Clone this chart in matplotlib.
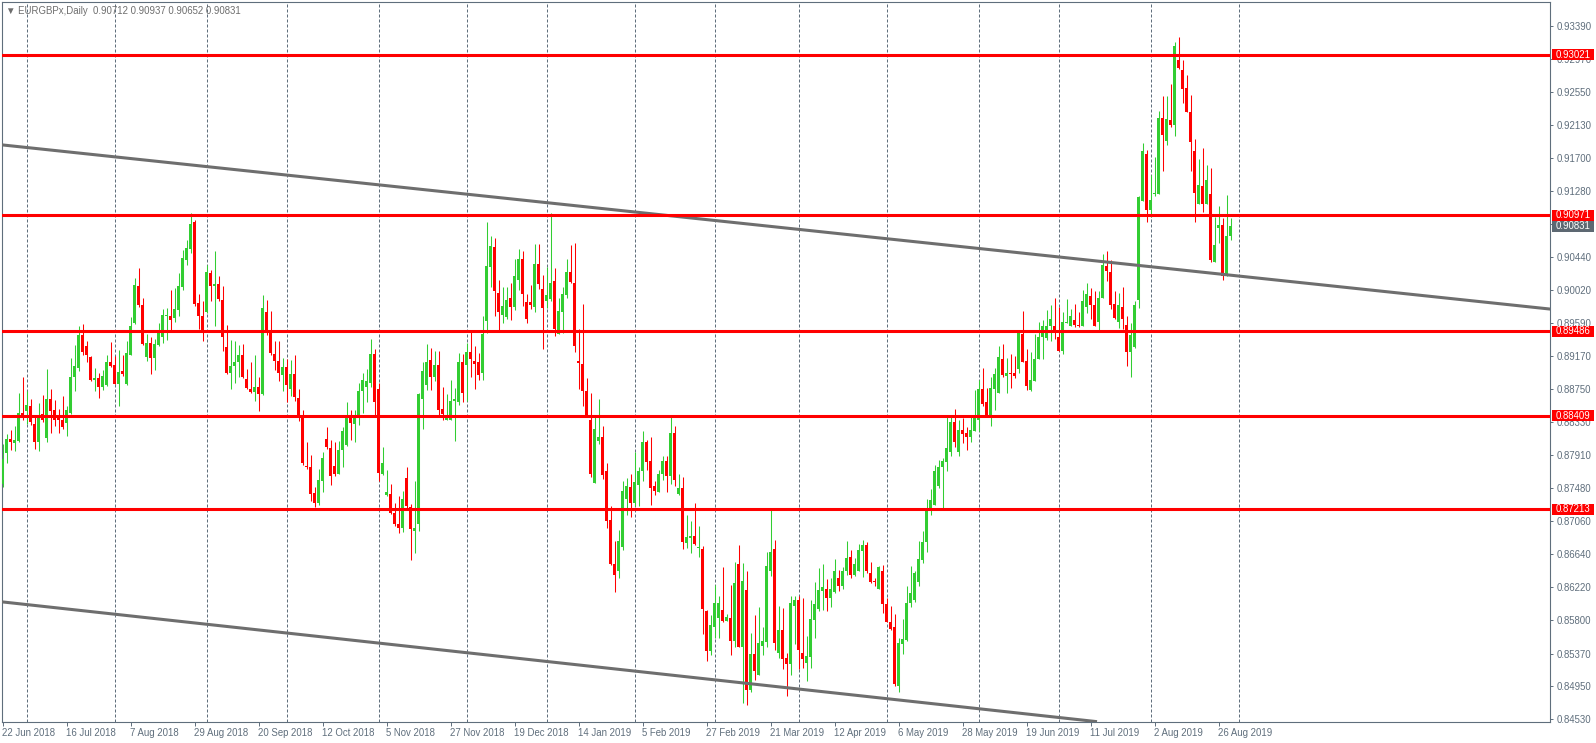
import matplotlib
matplotlib.use("Agg")
import matplotlib.pyplot as plt
import matplotlib.transforms as mtransforms
from matplotlib.patches import Rectangle
import numpy as np
import pandas as pd

# chart data
symbol = "EURGBPx,Daily"
first_date = "2018-06-22"
holidays = ["2018-12-25", "2019-01-01"]

opens = [
    0.8754, 0.8793, 0.8811, 0.8806, 0.8809, 0.8844, 0.8847, 0.8853, 0.8831, 0.8807,
    0.8843, 0.8812, 0.8862, 0.8848, 0.8840, 0.8835, 0.8832, 0.8845, 0.8890, 0.8902,
    0.8944, 0.8930, 0.8916, 0.8887, 0.8889, 0.8878, 0.8880, 0.8910, 0.8906, 0.8882,
    0.8898, 0.8882, 0.8919, 0.8959, 0.9007, 0.8982, 0.8916, 0.8934, 0.8915, 0.8931,
    0.8941, 0.8968, 0.8969, 0.8966, 0.8976, 0.9006, 0.9040, 0.9054, 0.9089, 0.8985,
    0.8968, 0.8973, 0.9023, 0.9007, 0.9009, 0.8989, 0.8929, 0.8896, 0.8905, 0.8910,
    0.8919, 0.8888, 0.8875, 0.8871, 0.8878, 0.8869, 0.8974, 0.8951, 0.8920, 0.8911,
    0.8893, 0.8903, 0.8875, 0.8894, 0.8863, 0.8842, 0.8776, 0.8775, 0.8742, 0.8730,
    0.8758, 0.8811, 0.8800, 0.8777, 0.8767, 0.8797, 0.8804, 0.8841, 0.8831, 0.8839,
    0.8872, 0.8878, 0.8883, 0.8920, 0.8875, 0.8767, 0.8740, 0.8741, 0.8717, 0.8702,
    0.8697, 0.8761, 0.8724, 0.8693, 0.8703, 0.8862, 0.8880, 0.8912, 0.8890, 0.8906,
    0.8849, 0.8836, 0.8835, 0.8860, 0.8858, 0.8910, 0.8906, 0.8922, 0.8911, 0.8909,
    0.8895, 0.8962, 0.9031, 0.9057, 0.8998, 0.8970, 0.8967, 0.8992, 0.8980, 0.9015,
    0.9041, 0.8986, 0.8986, 0.8980, 0.9035, 0.9003, 0.8988, 0.8990, 0.9013, 0.8946,
    0.8973, 0.8995, 0.9024, 0.9010, 0.8911, 0.8907, 0.8872, 0.8836, 0.8755, 0.8809,
    0.8814, 0.8770, 0.8708, 0.8651, 0.8642, 0.8673, 0.8735, 0.8750, 0.8730, 0.8752,
    0.8770, 0.8807, 0.8783, 0.8751, 0.8744, 0.8766, 0.8783, 0.8764, 0.8819, 0.8741,
    0.8748, 0.8678, 0.8685, 0.8687, 0.8672, 0.8671, 0.8591, 0.8540, 0.8571, 0.8583,
    0.8593, 0.8579, 0.8582, 0.8553, 0.8652, 0.8545, 0.8618, 0.8490, 0.8536, 0.8509,
    0.8547, 0.8552, 0.8643, 0.8671, 0.8538, 0.8567, 0.8531, 0.8524, 0.8598, 0.8605,
    0.8538, 0.8525, 0.8533, 0.8580, 0.8594, 0.8617, 0.8619, 0.8608, 0.8616, 0.8634,
    0.8623, 0.8643, 0.8660, 0.8638, 0.8643, 0.8668, 0.8676, 0.8640, 0.8630, 0.8619,
    0.8643, 0.8600, 0.8577, 0.8571, 0.8496, 0.8549, 0.8554, 0.8601, 0.8605, 0.8628,
    0.8657, 0.8679, 0.8720, 0.8727, 0.8751, 0.8775, 0.8782, 0.8795, 0.8833, 0.8795,
    0.8823, 0.8819, 0.8814, 0.8821, 0.8835, 0.8875, 0.8858, 0.8839, 0.8875, 0.8870,
    0.8913, 0.8892, 0.8896, 0.8896, 0.8901, 0.8946, 0.8911, 0.8874, 0.8885, 0.8914,
    0.8941, 0.8940, 0.8955, 0.8956, 0.8941, 0.8924, 0.8960, 0.8956, 0.8963, 0.8957,
    0.8955, 0.8980, 0.8994, 0.8983, 0.8961, 0.8992, 0.9032, 0.9024, 0.8984, 0.8961,
    0.8980, 0.8957, 0.8922, 0.8929, 0.8989, 0.9115, 0.9176, 0.9104, 0.9124, 0.9124,
    0.9221, 0.9192, 0.9219, 0.9212, 0.9295, 0.9283, 0.9260, 0.9229, 0.9179, 0.9112,
    0.9135, 0.9112, 0.9124, 0.9037, 0.9081, 0.9085, 0.9020, 0.90712,
]
highs = [
    0.8805, 0.8818, 0.8823, 0.8828, 0.8870, 0.8891, 0.8872, 0.8862, 0.8840, 0.8857,
    0.8867, 0.8901, 0.8875, 0.8861, 0.8850, 0.8866, 0.8853, 0.8915, 0.8931, 0.8955,
    0.8958, 0.8937, 0.8917, 0.8902, 0.8896, 0.8899, 0.8919, 0.8935, 0.8917, 0.8925,
    0.8918, 0.8936, 0.8967, 0.9017, 0.9030, 0.8992, 0.8946, 0.8942, 0.8939, 0.8959,
    0.8977, 0.8978, 0.9001, 0.9004, 0.9023, 0.9053, 0.9066, 0.9100, 0.9091, 0.8997,
    0.8987, 0.9034, 0.9027, 0.9052, 0.9019, 0.9007, 0.8957, 0.8938, 0.8937, 0.8931,
    0.8933, 0.8901, 0.8909, 0.8918, 0.8890, 0.8995, 0.8989, 0.8975, 0.8937, 0.8937,
    0.8915, 0.8914, 0.8912, 0.8918, 0.8875, 0.8848, 0.8808, 0.8791, 0.8750, 0.8773,
    0.8795, 0.8826, 0.8810, 0.8808, 0.8809, 0.8827, 0.8858, 0.8848, 0.8848, 0.8883,
    0.8896, 0.8901, 0.8939, 0.8926, 0.8883, 0.8801, 0.8772, 0.8754, 0.8729, 0.8738,
    0.8745, 0.8775, 0.8728, 0.8758, 0.8870, 0.8909, 0.8932, 0.8928, 0.8924, 0.8924,
    0.8878, 0.8869, 0.8887, 0.8876, 0.8921, 0.8920, 0.8934, 0.8948, 0.8930, 0.8921,
    0.8968, 0.9088, 0.9070, 0.9068, 0.9014, 0.9005, 0.9005, 0.9011, 0.9041, 0.9054,
    0.9052, 0.8997, 0.9008, 0.9060, 0.9061, 0.9021, 0.9031, 0.9100, 0.9030, 0.8992,
    0.9006, 0.9041, 0.9059, 0.9062, 0.8952, 0.8984, 0.8889, 0.8870, 0.8840, 0.8862,
    0.8828, 0.8781, 0.8726, 0.8681, 0.8695, 0.8757, 0.8762, 0.8767, 0.8794, 0.8775,
    0.8821, 0.8810, 0.8814, 0.8757, 0.8772, 0.8790, 0.8790, 0.8841, 0.8828, 0.8767,
    0.8763, 0.8714, 0.8706, 0.8729, 0.8700, 0.8674, 0.8593, 0.8586, 0.8625, 0.8610,
    0.8647, 0.8588, 0.8625, 0.8654, 0.8676, 0.8653, 0.8642, 0.8563, 0.8586, 0.8596,
    0.8571, 0.8667, 0.8723, 0.8682, 0.8598, 0.8595, 0.8538, 0.8610, 0.8610, 0.8610,
    0.8608, 0.8559, 0.8605, 0.8629, 0.8646, 0.8652, 0.8632, 0.8634, 0.8658, 0.8644,
    0.8648, 0.8681, 0.8669, 0.8659, 0.8677, 0.8682, 0.8680, 0.8654, 0.8633, 0.8649,
    0.8650, 0.8608, 0.8598, 0.8587, 0.8557, 0.8581, 0.8623, 0.8649, 0.8642, 0.8681,
    0.8693, 0.8735, 0.8747, 0.8778, 0.8784, 0.8787, 0.8839, 0.8840, 0.8850, 0.8835,
    0.8838, 0.8827, 0.8841, 0.8874, 0.8887, 0.8902, 0.8877, 0.8891, 0.8902, 0.8930,
    0.8933, 0.8915, 0.8920, 0.8917, 0.8951, 0.8975, 0.8926, 0.8923, 0.8945, 0.8961,
    0.8963, 0.8976, 0.8982, 0.8992, 0.8980, 0.8973, 0.8990, 0.8977, 0.8984, 0.8973,
    0.9002, 0.9010, 0.9004, 0.9000, 0.9000, 0.9048, 0.9052, 0.9040, 0.9000, 0.8998,
    0.9005, 0.8968, 0.8960, 0.8988, 0.9122, 0.9190, 0.9180, 0.9149, 0.9171, 0.9230,
    0.9250, 0.9249, 0.9265, 0.9318, 0.9325, 0.9295, 0.9276, 0.9251, 0.9194, 0.9169,
    0.9183, 0.9161, 0.9157, 0.9095, 0.9109, 0.9094, 0.9123, 0.90937,
]
lows = [
    0.8750, 0.8780, 0.8797, 0.8796, 0.8807, 0.8836, 0.8831, 0.8829, 0.8799, 0.8796,
    0.8833, 0.8808, 0.8819, 0.8828, 0.8819, 0.8824, 0.8815, 0.8843, 0.8873, 0.8898,
    0.8919, 0.8910, 0.8885, 0.8872, 0.8864, 0.8874, 0.8879, 0.8903, 0.8882, 0.8853,
    0.8892, 0.8880, 0.8919, 0.8958, 0.8980, 0.8931, 0.8911, 0.8894, 0.8899, 0.8930,
    0.8934, 0.8938, 0.8948, 0.8961, 0.8968, 0.9001, 0.9034, 0.9049, 0.8981, 0.8952,
    0.8937, 0.8972, 0.8988, 0.8955, 0.8988, 0.8924, 0.8894, 0.8875, 0.8883, 0.8890,
    0.8889, 0.8875, 0.8870, 0.8860, 0.8847, 0.8868, 0.8944, 0.8919, 0.8899, 0.8885,
    0.8872, 0.8858, 0.8866, 0.8860, 0.8834, 0.8778, 0.8773, 0.8732, 0.8724, 0.8727,
    0.8744, 0.8798, 0.8752, 0.8764, 0.8766, 0.8775, 0.8802, 0.8810, 0.8808, 0.8829,
    0.8844, 0.8858, 0.8878, 0.8842, 0.8757, 0.8765, 0.8738, 0.8715, 0.8700, 0.8691,
    0.8692, 0.8723, 0.8657, 0.8666, 0.8694, 0.8824, 0.8874, 0.8874, 0.8885, 0.8842,
    0.8836, 0.8836, 0.8835, 0.8809, 0.8855, 0.8859, 0.8860, 0.8891, 0.8875, 0.8887,
    0.8886, 0.8947, 0.9005, 0.8968, 0.8951, 0.8960, 0.8964, 0.8963, 0.8976, 0.9002,
    0.8981, 0.8959, 0.8977, 0.8973, 0.9003, 0.8926, 0.8979, 0.8988, 0.8943, 0.8945,
    0.8947, 0.8992, 0.9010, 0.8922, 0.8875, 0.8854, 0.8841, 0.8763, 0.8755, 0.8805,
    0.8760, 0.8698, 0.8650, 0.8616, 0.8634, 0.8669, 0.8714, 0.8711, 0.8726, 0.8725,
    0.8758, 0.8772, 0.8727, 0.8740, 0.8743, 0.8759, 0.8743, 0.8754, 0.8751, 0.8740,
    0.8671, 0.8672, 0.8665, 0.8676, 0.8661, 0.8562, 0.8528, 0.8535, 0.8557, 0.8557,
    0.8577, 0.8578, 0.8535, 0.8546, 0.8545, 0.8474, 0.8471, 0.8488, 0.8503, 0.8509,
    0.8535, 0.8546, 0.8636, 0.8542, 0.8531, 0.8517, 0.8483, 0.8509, 0.8549, 0.8517,
    0.8518, 0.8502, 0.8518, 0.8557, 0.8592, 0.8593, 0.8591, 0.8597, 0.8614, 0.8617,
    0.8619, 0.8638, 0.8633, 0.8636, 0.8642, 0.8635, 0.8640, 0.8627, 0.8623, 0.8619,
    0.8589, 0.8577, 0.8567, 0.8496, 0.8488, 0.8536, 0.8553, 0.8596, 0.8603, 0.8623,
    0.8653, 0.8667, 0.8714, 0.8727, 0.8748, 0.8723, 0.8770, 0.8789, 0.8801, 0.8790,
    0.8806, 0.8797, 0.8808, 0.8821, 0.8822, 0.8853, 0.8840, 0.8828, 0.8848, 0.8870,
    0.8890, 0.8870, 0.8876, 0.8889, 0.8895, 0.8910, 0.8874, 0.8872, 0.8885, 0.8914,
    0.8914, 0.8938, 0.8937, 0.8939, 0.8924, 0.8920, 0.8959, 0.8955, 0.8954, 0.8954,
    0.8955, 0.8972, 0.8965, 0.8955, 0.8950, 0.8992, 0.9013, 0.8977, 0.8965, 0.8953,
    0.8952, 0.8905, 0.8891, 0.8928, 0.8979, 0.9115, 0.9088, 0.9095, 0.9122, 0.9124,
    0.9154, 0.9187, 0.9210, 0.9199, 0.9284, 0.9240, 0.9229, 0.9154, 0.9089, 0.9112,
    0.9101, 0.9112, 0.9037, 0.9037, 0.9062, 0.9014, 0.9020, 0.90652,
]
closes = [
    0.8786, 0.8811, 0.8808, 0.8810, 0.8844, 0.8838, 0.8855, 0.8833, 0.8807, 0.8842,
    0.8836, 0.8862, 0.8847, 0.8836, 0.8835, 0.8826, 0.8848, 0.8890, 0.8904, 0.8944,
    0.8923, 0.8918, 0.8887, 0.8889, 0.8878, 0.8892, 0.8910, 0.8905, 0.8882, 0.8897,
    0.8894, 0.8921, 0.8956, 0.9008, 0.8982, 0.8933, 0.8934, 0.8915, 0.8933, 0.8948,
    0.8970, 0.8970, 0.8963, 0.8977, 0.9007, 0.9043, 0.9055, 0.9086, 0.8984, 0.8968,
    0.8951, 0.9024, 0.9007, 0.9009, 0.8990, 0.8942, 0.8896, 0.8905, 0.8910, 0.8919,
    0.8890, 0.8877, 0.8871, 0.8878, 0.8869, 0.8979, 0.8951, 0.8921, 0.8911, 0.8896,
    0.8903, 0.8880, 0.8894, 0.8865, 0.8842, 0.8781, 0.8775, 0.8741, 0.8730, 0.8759,
    0.8787, 0.8801, 0.8764, 0.8767, 0.8797, 0.8821, 0.8841, 0.8832, 0.8841, 0.8873,
    0.8887, 0.8885, 0.8920, 0.8858, 0.8768, 0.8780, 0.8743, 0.8717, 0.8702, 0.8698,
    0.8735, 0.8725, 0.8696, 0.8698, 0.8869, 0.8898, 0.8910, 0.8890, 0.8906, 0.8848,
    0.8843, 0.8839, 0.8860, 0.8862, 0.8910, 0.8870, 0.8922, 0.8913, 0.8907, 0.8893,
    0.8946, 0.9032, 0.9058, 0.9000, 0.8973, 0.8981, 0.8989, 0.8980, 0.9019, 0.9041,
    0.8997, 0.8964, 0.8983, 0.9035, 0.9009, 0.8979, 0.8995, 0.9011, 0.8952, 0.8975,
    0.8997, 0.9024, 0.9012, 0.8930, 0.8908, 0.8873, 0.8842, 0.8767, 0.8824, 0.8814,
    0.8765, 0.8707, 0.8651, 0.8638, 0.8681, 0.8745, 0.8751, 0.8730, 0.8756, 0.8770,
    0.8807, 0.8782, 0.8749, 0.8745, 0.8767, 0.8783, 0.8764, 0.8819, 0.8759, 0.8749,
    0.8679, 0.8686, 0.8687, 0.8677, 0.8673, 0.8594, 0.8540, 0.8573, 0.8602, 0.8602,
    0.8579, 0.8584, 0.8553, 0.8627, 0.8546, 0.8630, 0.8490, 0.8536, 0.8515, 0.8551,
    0.8553, 0.8649, 0.8667, 0.8551, 0.8567, 0.8530, 0.8524, 0.8602, 0.8605, 0.8542,
    0.8530, 0.8534, 0.8581, 0.8600, 0.8618, 0.8622, 0.8608, 0.8620, 0.8643, 0.8623,
    0.8643, 0.8659, 0.8638, 0.8651, 0.8669, 0.8676, 0.8642, 0.8629, 0.8628, 0.8647,
    0.8600, 0.8577, 0.8569, 0.8498, 0.8551, 0.8556, 0.8602, 0.8615, 0.8640, 0.8658,
    0.8680, 0.8721, 0.8733, 0.8770, 0.8776, 0.8783, 0.8800, 0.8833, 0.8807, 0.8823,
    0.8818, 0.8814, 0.8823, 0.8841, 0.8875, 0.8856, 0.8841, 0.8876, 0.8894, 0.8916,
    0.8893, 0.8895, 0.8894, 0.8892, 0.8949, 0.8910, 0.8879, 0.8887, 0.8913, 0.8942,
    0.8955, 0.8956, 0.8965, 0.8951, 0.8924, 0.8961, 0.8961, 0.8968, 0.8957, 0.8955,
    0.8988, 0.8996, 0.8983, 0.8955, 0.8992, 0.9034, 0.9026, 0.8983, 0.8966, 0.8983,
    0.8964, 0.8922, 0.8944, 0.8982, 0.9120, 0.9179, 0.9104, 0.9116, 0.9126, 0.9222,
    0.9200, 0.9220, 0.9212, 0.9313, 0.9285, 0.9259, 0.9229, 0.9191, 0.9125, 0.9136,
    0.9112, 0.9142, 0.9040, 0.9059, 0.9085, 0.9020, 0.9071, 0.90831,
]

# drawn objects
levels = [0.93021, 0.90971, 0.89486, 0.88409, 0.87213]
upper_trend = [(0, 0.9187), (380, 0.8981)]
lower_trend = [(0, 0.8603), (270, 0.8452)]
y_ticks = [0.93390, 0.92970, 0.92550, 0.92130, 0.91700, 0.91280, 0.90860,
           0.90440, 0.90020, 0.89590, 0.89170, 0.88750, 0.88330, 0.87910,
           0.87480, 0.87060, 0.86640, 0.86220, 0.85800, 0.85370, 0.84950,
           0.84530]

plt.rcParams['font.family'] = ['Liberation Sans', 'DejaVu Sans']

axis_col = '#5f6e7c'
bull = '#32cd32'
bear = '#ff0000'
fs = 6.9

W, H = 1596, 743
L, R, T, B = 2, 1550, 2, 721.5
PX = 7825.0  # pixels per price unit

fig = plt.figure(figsize=(W / 100, H / 100), dpi=100)
ax = fig.add_axes([L / W, 1 - B / H, (R - L) / W, (B - T) / H])
ax.set_xlim((L - 2.5) / 4, (R - 2.5) / 4)
ax.set_ylim(0.9339 - (B - 26) / PX, 0.9339 + (26 - T) / PX)

o = np.array(opens)
h = np.array(highs)
l = np.array(lows)
c = np.array(closes)
x = np.arange(len(c))
cols = np.where(c >= o, bull, bear)

dates = pd.bdate_range(first_date, periods=len(c) + 2, freq='C', holidays=holidays)

# month separators
for i in range(1, len(dates)):
    if dates[i].month != dates[i - 1].month:
        ax.axvline(i, color=axis_col, lw=0.72, ls=(0, (3, 2)), zorder=1)

# candles
ax.vlines(x, l, h, colors=cols, lw=0.75, zorder=2)
ax.bar(x, np.maximum(np.abs(c - o), 0.00012), bottom=np.minimum(o, c),
       width=0.75, color=cols, linewidth=0, zorder=3)

# trend lines and levels
ax.axline(upper_trend[0], upper_trend[1], color='#6e6e6e', lw=2.2, zorder=4)
ax.axline(lower_trend[0], lower_trend[1], color='#6e6e6e', lw=2.2, zorder=4)
for lv in levels:
    ax.axhline(lv, color='#ff0000', lw=2.2, zorder=5)

# axes styling
for s in ax.spines.values():
    s.set_color(axis_col)
    s.set_linewidth(0.8)
ax.yaxis.tick_right()
ax.set_yticks(y_ticks)
ax.set_yticklabels([f'{v:.5f}' for v in y_ticks])
ax.tick_params(axis='y', direction='out', length=2.5, width=0.7, colors=axis_col,
               labelsize=fs, pad=2)

xt = list(range(0, len(c), 16))
ax.set_xticks(xt)
ax.set_xticklabels([f"{dates[i].day} {dates[i]:%b %Y}" for i in xt], ha='left')
ax.tick_params(axis='x', direction='out', length=3, width=0.7, colors=axis_col,
               labelsize=fs, pad=1.5)

# price labels on the right axis
trans = mtransforms.blended_transform_factory(ax.transAxes, ax.transData)
bx = 1 + 2 / (R - L)
bw = 42 / (R - L)
bh = 11 / PX


def price_box(price, fc):
    ax.add_patch(Rectangle((bx, price - bh / 2), bw, bh, transform=trans,
                           facecolor=fc, edgecolor='none', clip_on=False, zorder=6))
    ax.text(bx + bw / 2, price, f'{price:.5f}', transform=trans, ha='center',
            va='center', color='white', fontsize=fs, clip_on=False, zorder=7)


for lv in levels:
    price_box(lv, '#ff0000')
price_box(closes[-1], '#5d6872')

# header
fig.text(6 / W, 1 - 11 / H,
         f"\u25bc {symbol}  {opens[-1]:.5f} {highs[-1]:.5f} {lows[-1]:.5f} {closes[-1]:.5f}",
         ha='left', va='center', fontsize=fs, color='#6d6d6d')

fig.savefig('out.png', dpi=100)
